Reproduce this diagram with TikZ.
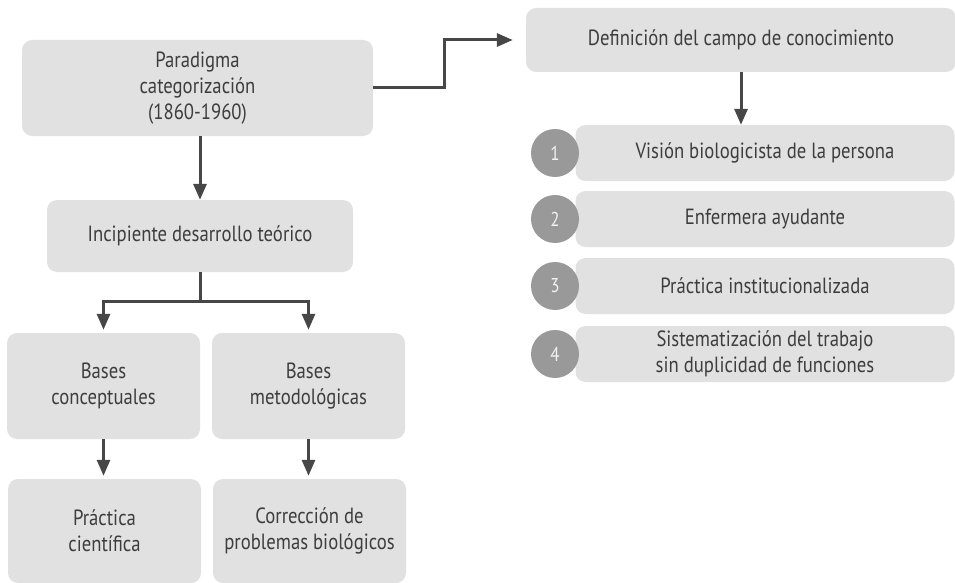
\documentclass[tikz,border=0pt]{standalone}
\usepackage{fontspec}
\setmainfont[FakeStretch=0.85]{PT Sans}
\usepackage{xcolor}
\usepackage{tikz}
\usetikzlibrary{arrows.meta,positioning}

\definecolor{cajagris}{HTML}{E1E1E1}
\definecolor{textogris}{HTML}{3D3D3D}
\definecolor{flechagris}{HTML}{474747}
\definecolor{circgris}{HTML}{999999}

\begin{document}
\begin{tikzpicture}[x=1pt, y=-1pt,
   caja/.style={fill=cajagris, rounded corners=10pt, align=center,
                text=textogris, inner sep=0pt,
                font=\fontsize{22}{26}\selectfont},
   num/.style={circle, fill=circgris, text=white!95!black, minimum size=48pt,
               inner sep=0pt, font=\fontsize{20}{20}\selectfont},
   flecha/.style={-{Triangle[length=16pt,width=13pt]}, line width=3pt,
                  draw=flechagris},
   >=Stealth]
\useasboundingbox (0,0) rectangle (955,583);
\node[caja, minimum width=351pt, minimum height=96pt] (para) at (197.5,88)
  {Paradigma\\categorización\\(1860-1960)};
\node[caja, minimum width=430pt, minimum height=64pt] (def) at (741,40)
  {Definición del campo de conocimiento};
\node[caja, minimum width=306pt, minimum height=72pt] (incip) at (200,236)
  {Incipiente desarrollo teórico};
\node[caja, minimum width=193pt, minimum height=106pt] (bconc) at (103.5,386)
  {Bases\\conceptuales};
\node[caja, minimum width=193pt, minimum height=106pt] (bmet) at (308.5,386)
  {Bases\\metodológicas};
\node[caja, minimum width=193pt, minimum height=104pt] (pcien) at (104.5,531)
  {Práctica\\científica};
\node[caja, minimum width=193pt, minimum height=104pt] (corr) at (309.5,531)
  {Corrección de\\problemas biológicos};
% lista numerada
\foreach \n/\yy/\txt in {1/153/{Visión biologicista de la persona},
                         2/219/{Enfermera ayudante},
                         3/286/{Práctica institucionalizada},
                         4/354/{Sistematización del trabajo\\sin duplicidad de funciones}}{
  \node[caja, minimum width=379pt, minimum height=56pt] (fila\n) at (765,\yy) {\txt};
  \node[num] (circ\n) at (555,\yy) {\n};
}
% flechas
\draw[flecha, shorten >=13pt] (para.east) -- ++(71,0) |- (def.west);
\draw[flecha] (def.south) -- (def.south |- fila1.north);
\draw[flecha] (incip.north |- para.south) -- (incip.north);
\draw[line width=3pt, flechagris] (incip.south) -- ++(0,29) coordinate (rama);
\draw[flecha, shorten >=3pt] (rama) -| (bconc.north);
\draw[flecha, shorten >=3pt] (rama) -| (bmet.north);
\draw[flecha, shorten >=3pt] (bconc.south) -- (bconc.south |- pcien.north);
\draw[flecha, shorten >=3pt] (bmet.south) -- (bmet.south |- corr.north);
\end{tikzpicture}
\end{document}
